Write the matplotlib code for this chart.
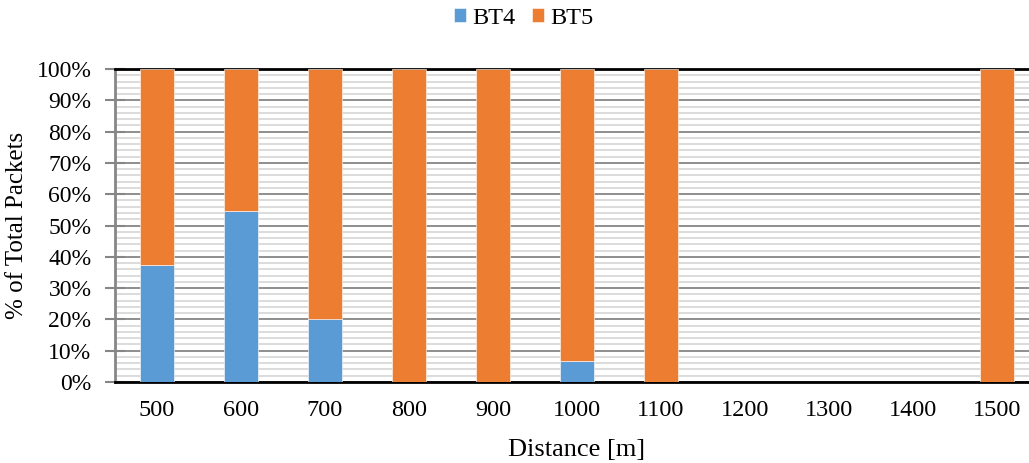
import matplotlib
matplotlib.use("Agg")
import matplotlib.pyplot as plt
from matplotlib.ticker import MultipleLocator, FuncFormatter
import numpy as np

categories = ["500", "600", "700", "800", "900", "1000", "1100", "1200", "1300", "1400", "1500"]
bt4 = [37.5, 54.6, 20.0, 0, 0, 6.7, 0, 0, 0, 0, 0]
bt5 = [62.5, 45.4, 80.0, 100, 100, 93.3, 100, 0, 0, 0, 100]

plt.rcParams['font.family'] = ['Liberation Serif', 'DejaVu Serif']

fig = plt.figure(figsize=(10.29, 4.63), dpi=100)
ax = fig.add_axes([115/1029, 81/463, 924/1029, 313/463])

x = np.arange(len(categories))
c4 = '#5B9BD5'
c5 = '#ED7D31'
ax.bar(x, bt4, width=0.4, color=c4, edgecolor='white', linewidth=0.4, label='BT4', zorder=3)
ax.bar(x, bt5, width=0.4, bottom=bt4, color=c5, edgecolor='white', linewidth=0.4, label='BT5', zorder=3)

ax.set_xlim(-0.5, len(categories) - 0.5)
ax.set_ylim(0, 100)
ax.yaxis.set_major_locator(MultipleLocator(10))
ax.yaxis.set_minor_locator(MultipleLocator(2))
ax.yaxis.set_major_formatter(FuncFormatter(lambda v, p: f"{int(round(v))}%"))
ax.set_xticks(x)
ax.set_xticklabels(categories)

ax.grid(which='minor', axis='y', color='#D9D9D9', linewidth=1.3, zorder=0)
ax.grid(which='major', axis='y', color='#868686', linewidth=1.3, zorder=1)
ax.set_axisbelow(True)

ax.spines['right'].set_visible(False)
ax.spines['top'].set_color('black')
ax.spines['top'].set_linewidth(2)
ax.spines['bottom'].set_color('black')
ax.spines['bottom'].set_linewidth(2)
ax.spines['left'].set_color('#868686')
ax.spines['left'].set_linewidth(2)

ax.tick_params(axis='y', which='major', direction='inout', length=14, width=1.5, color='#868686', labelsize=17, pad=10)
ax.tick_params(axis='y', which='minor', length=0)
ax.tick_params(axis='x', which='both', length=0, labelsize=17.5, pad=13)

ax.set_ylabel('% of Total Packets', fontsize=18, labelpad=6)
ax.set_xlabel('Distance [m]', fontsize=19, labelpad=13)

fig.legend(loc='center', bbox_to_anchor=(0.509, 1 - 18/463), ncol=2, frameon=False,
           fontsize=17.5, handlelength=0.5, handleheight=0.5, handletextpad=0.25, columnspacing=0.7,
           borderaxespad=0, borderpad=0)

fig.savefig('out.png', dpi=100)
